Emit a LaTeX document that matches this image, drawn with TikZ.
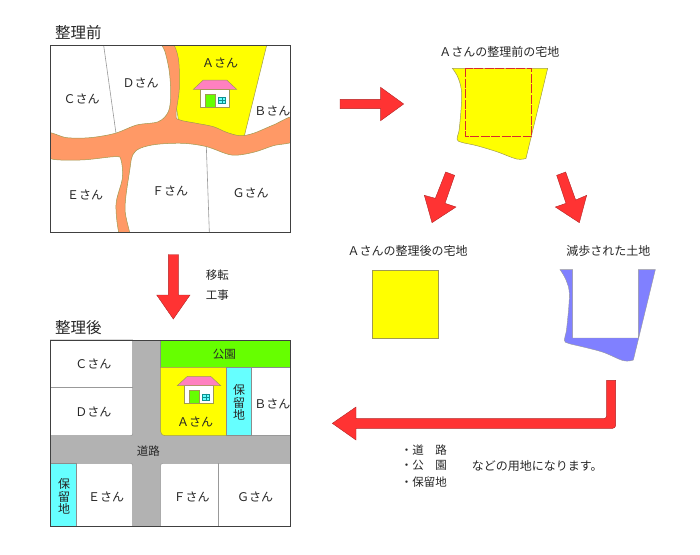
\documentclass[tikz,border=0pt]{standalone}
\usepackage{fontspec}
\setmainfont{Noto Sans CJK JP}
\definecolor{roadc}{HTML}{FF9966}
\definecolor{arrowc}{HTML}{FF3333}
\definecolor{greyc}{HTML}{B2B2B2}
\definecolor{parkc}{HTML}{66FF00}
\definecolor{keepc}{HTML}{66FFFF}
\definecolor{lossc}{HTML}{8080FF}
\definecolor{edgec}{HTML}{A09A50}
\definecolor{plotc}{HTML}{FFFF00}
\definecolor{roofc}{HTML}{FF80C0}
\definecolor{panec}{HTML}{0F8F8F}
\tikzset{
  txt/.style={inner sep=0pt, font=\fontsize{12}{12.5}\selectfont, text=black!85, align=center},
  small/.style={inner sep=0pt, font=\fontsize{11.5}{12}\selectfont, text=black!85},
  title/.style={inner sep=0pt, font=\fontsize{15.5}{16}\selectfont, text=black!85},
  block/.style={fill=arrowc, draw=arrowc!70!black, line width=0.4pt},
  frame/.style={draw=black!75, line width=0.7pt},
  thin line/.style={draw=black!40, line width=0.6pt},
  plot edge/.style={fill=plotc, draw=edgec, line width=0.5pt},
  top left/.style={shift={(40,15)}, scale=1/3},
  bottom left/.style={shift={(40,315)}, scale=1/3},
  top right/.style={shift={(330,35)}, scale=1/3},
  bottom right/.style={shift={(330,235)}, scale=1/3},
  pics/house/.style={code={
    \draw[fill=white, draw=edgec, line width=0.5pt] (22,28) rectangle (107,82);
    \draw[fill=parkc, draw=edgec, line width=0.4pt] (37,43) rectangle (65,82);
    \draw[fill=keepc, draw=panec, line width=0.3pt] (75,52) rectangle (95,70);
    \draw[draw=panec, line width=0.3pt] (85,52) -- (85,70) (75,61) -- (95,61);
    \draw[fill=roofc, draw=edgec, line width=0.5pt] (0,28) -- (30,0) -- (100,0) -- (130,28) -- cycle;
  }}
}
\begin{document}
\begin{tikzpicture}[x=1pt, y=-1pt]
\useasboundingbox (0,0) rectangle (700,554);

% before
\begin{scope}[top left]
\node[title] (before) at (115,52) {整理前};
\fill[white] (31,91) rectangle (752,652);
\draw[thin line] (191,91) -- (228,355);
\draw[thin line] (499,395) -- (508,652);
\draw[plot edge] (380,91) -- (680,91) -- (610,375) -- (420,345) -- cycle;
\begin{scope}
\clip (31,91) rectangle (752,652);
\draw[fill=roadc, draw=edgec, line width=0.5pt] plot[smooth cycle, tension=0.55] coordinates {
  (362,80) (375,110) (388,170) (392,240) (385,290) (355,320) (290,330) (225,355)
  (150,368) (80,368) (20,355) (20,426) (120,435) (225,425) (243,435) (247,490)
  (228,570) (240,665) (270,665) (255,580) (270,460) (278,420) (300,400) (350,388)
  (430,385) (500,395) (575,420) (640,412) (700,392) (765,375) (765,305) (700,330)
  (640,355) (600,362) (560,352) (520,335) (470,325) (420,315) (408,300) (418,220)
  (415,130) (395,80)};
\end{scope}
\draw[frame] (31,91) rectangle (752,652);
\pic[transform shape] at (460,195) {house};
\node[txt] (a1) at (540,143) {Ａさん};
\node[txt] (d1) at (302,205) {Ｄさん};
\node[txt] (c1) at (125,253) {Ｃさん};
\node[txt] (b1) at (697,288) {Ｂさん};
\node[txt] (f1) at (390,527) {Ｆさん};
\node[txt] (e1) at (135,540) {Ｅさん};
\node[txt] (g1) at (632,533) {Ｇさん};
\end{scope}

% after
\begin{scope}[bottom left]
\node[title] (after) at (115,38) {整理後};
\fill[greyc] (31,75) rectangle (752,635);
\draw[thin line, fill=white] (31,75) -- (278,75) [rounded corners=2pt] -- (278,362) [sharp corners] -- (31,362) -- cycle;
\draw[thin line] (31,217) -- (278,217);
\draw[thin line, fill=white] (31,445) [rounded corners=2pt] -- (278,445) [sharp corners] -- (278,635) -- (31,635) -- cycle;
\draw[thin line, fill=white] (752,445) -- (752,635) -- (362,635) [rounded corners=2pt] -- (362,445) [sharp corners] -- cycle;
\draw[thin line] (535,445) -- (535,635);
\draw[fill=parkc, draw=black!45, line width=0.6pt] (362,75) rectangle (752,157);
\draw[plot edge] (362,157) [rounded corners=4pt] -- (362,362) [sharp corners] -- (560,362) -- (560,157) -- cycle;
\draw[fill=keepc, draw=black!45, line width=0.6pt] (560,157) rectangle (635,362);
\fill[white] (635.5,158) rectangle (751,361);
\draw[thin line] (635,362) -- (752,362);
\draw[fill=keepc, draw=black!45, line width=0.6pt] (31,445) rectangle (110,635);
\draw[frame] (31,75) rectangle (752,635);
\pic[transform shape] at (412,184) {house};
\node[small] (park) at (553,118) {公園};
\node[small] (road) at (325,408) {道路};
\node[txt] (keep1) at (597,262) {保\\留\\地};
\node[txt] (keep2) at (72,545) {保\\留\\地};
\node[txt] (c2) at (160,148) {Ｃさん};
\node[txt] (d2) at (160,290) {Ｄさん};
\node[txt] (a2) at (465,320) {Ａさん};
\node[txt] (b2) at (697,266) {Ｂさん};
\node[txt] (e2) at (198,545) {Ｅさん};
\node[txt] (f2) at (455,545) {Ｆさん};
\node[txt] (g2) at (645,545) {Ｇさん};
\end{scope}

% down arrow
\draw[block] (168.3,254.5) -- (178.3,254.5) -- (178.3,295) -- (190,295) -- (173.3,319) -- (156.7,295) -- (168.3,295) -- cycle;
\node[small] (move) at (217.3,275) {移転};
\node[small] (work) at (217.3,295) {工事};

% A's plot
\begin{scope}[top right]
\node[txt] (oldplot) at (508,50) {Ａさんの整理前の宅地};
\draw[plot edge] (367,100) -- (653,100) -- (588,370) -- plot[smooth, tension=0.6] coordinates {
  (588,370) (560,372) (500,350) (440,332) (395,322) (381,312) (388,280) (395,180) (385,130) (367,100)} -- cycle;
\draw[arrowc!85!black, dash pattern=on 9pt off 1.5pt, line width=0.7pt] (405,100) rectangle (605,305);
\draw[block] (30,193) -- (152,193) -- (152,157) -- (221,207) -- (152,257) -- (152,221) -- (30,221) -- cycle;
\draw[block] (347,411) -- (374,421) -- (345,505) -- (378,516) -- (306,563) -- (283,481) -- (316,490) -- cycle;
\draw[block] (680,421) -- (707,411) -- (737,495) -- (770,481) -- (748,563) -- (676,516) -- (708,505) -- cycle;
\end{scope}

\begin{scope}[bottom right]
\node[txt] (newplot) at (233,48) {Ａさんの整理後の宅地};
\node[txt] (lost) at (835,48) {減歩された土地};
\draw[plot edge] (127,106) rectangle (326,311);
\draw[fill=lossc, draw=black!40, line width=0.4pt] (690,104) -- (728,104) -- (728,309) -- (925,309) -- (925,104) -- (976,104) -- (910,375) -- plot[smooth, tension=0.6] coordinates {
  (910,375) (880,377) (820,352) (760,336) (715,325) (703,315) (710,280) (718,180) (708,135) (690,104)} -- cycle;
\draw[block] (830,436) -- (857,436) [rounded corners=3pt] -- (857,580) [sharp corners] -- (78,580) -- (78,615) -- (7,565) -- (78,516) -- (78,551) [rounded corners=3pt] -- (830,551) [sharp corners] -- cycle;
\node[small, anchor=west] (list1) at (212,645) {・道　路};
\node[small, anchor=west] (list2) at (212,692) {・公　園};
\node[small, anchor=west] (list3) at (212,740) {・保留地};
\node[txt, anchor=west] (uses) at (425,692) {などの用地になります。};
\end{scope}
\end{tikzpicture}
\end{document}
